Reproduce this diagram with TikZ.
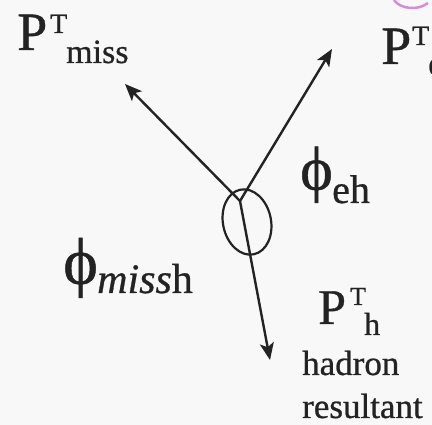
\documentclass[tikz,border=0pt]{standalone}
\usepackage{fontspec}
\setmainfont{Liberation Serif}[FakeBold=0.7]
\usetikzlibrary{arrows.meta}
\definecolor{ink}{RGB}{35,35,35}
\definecolor{bg}{RGB}{248,248,248}
\definecolor{pinkish}{RGB}{215,140,215}
\newcommand{\fs}[1]{\fontsize{#1}{#1}\selectfont}
\tikzset{
  txt/.style={inner sep=0pt, text=ink, anchor=base west},
  phisym/.style={inner sep=0pt, text=ink, anchor=south west},
  vec/.style={draw=ink, line width=2.4pt, -{Stealth[length=17pt,width=14pt,inset=4pt]}},
  ring/.style={draw=ink, line width=2.2pt},
}
\begin{document}
\begin{tikzpicture}[x=1pt,y=-1pt]
\fill[bg] (0,0) rectangle (432,425);
\useasboundingbox (0,0) rectangle (432,425);
% pink fragment at top right
\draw[pinkish, line width=2.5pt] (394,0) .. controls (400,9) and (418,11) .. (428,3);
% labels
\node[txt,font=\fs{54}] (Pm) at (17,50) {P};
\node[txt,font=\fs{28}] (Tm) at (50,33) {T};
\node[txt,font=\fs{34}] (sm) at (66,63) {miss};
\node[txt,font=\fs{54}] (Pe) at (381,64) {P};
\node[txt,font=\fs{28}] (Te) at (412,45) {T};
\node[txt,font=\fs{34}] (se) at (428,75) {e};
\node[phisym,font=\fs{62}] (phie) at (300,203) {\symbol{"03D5}};
\node[txt,font=\fs{40}] (seh) at (332,203) {eh};
\node[phisym,font=\fs{66}] (phim) at (63,298) {\symbol{"03D5}};
\node[txt,font=\fs{42}] (smh) at (97,293) {\textit{miss}h};
\node[txt,font=\fs{50}] (Ph) at (318,324) {P};
\node[txt,font=\fs{26}] (Th) at (350,305) {T};
\node[txt,font=\fs{32}] (sh) at (364,335) {h};
\node[txt,font=\fs{35}] (had) at (302,375) {hadron};
\node[txt,font=\fs{35}] (res) at (302,418) {resultant};
% vectors
\coordinate (O) at (240,201);
\coordinate (tm) at (125,84);
\coordinate (te) at (332,49);
\coordinate (th) at (270,360);
\draw[vec] (O) -- (tm);
\draw[vec] (O) -- (te);
\draw[vec] (O) -- (th);
% angle loop
\draw[ring, rotate around={12:(247,222)}] (247,222) ellipse [x radius=24, y radius=33];
\end{tikzpicture}
\end{document}
